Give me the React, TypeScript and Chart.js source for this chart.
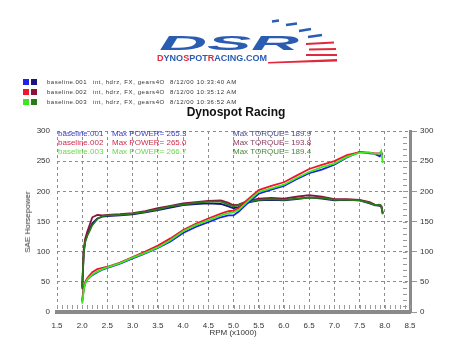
import React, { useEffect, useRef } from "react";
import { Chart, registerables } from "chart.js";
Chart.register(...registerables);

// ---------- data ----------
const rpm = [2.0, 2.03, 2.06, 2.1, 2.15, 2.2, 2.3, 2.4, 2.5, 2.75, 3.0, 3.25, 3.5, 3.75, 4.0, 4.25, 4.5, 4.75, 4.9, 5.0, 5.1, 5.25, 5.5, 5.75, 6.0, 6.25, 6.5, 6.75, 7.0, 7.25, 7.5, 7.7, 7.8, 7.9, 7.93, 7.96];

const torque001 = [40, 100, 118, 128, 138, 147, 155, 158, 159, 160, 162, 165, 169, 173, 177, 179, 180, 179, 175, 172, 174, 181, 185, 186, 185, 187, 189.9, 188, 185, 186, 185, 180, 177, 176, 175, 163];
const torque002 = [42, 104, 122, 133, 145, 157, 161, 160, 161, 162, 164, 167, 172, 176, 180, 182, 184, 185, 181, 177, 178, 183, 188, 189, 188, 191, 193.8, 191, 187, 187, 186, 182, 178, 177, 176, 164];
const torque003 = [38, 98, 116, 126, 135, 144, 154, 159, 160, 161, 163, 166, 170, 175, 178, 181, 183, 183, 178, 175, 177, 182, 186, 187, 186, 188, 189.4, 189, 186, 186, 185, 181, 177, 178, 176, 162];

const power001 = [17, 38, 48, 54, 58, 61, 66, 70, 73, 80, 89, 97, 106, 117, 131, 141, 149, 157, 160, 160, 166, 178, 196, 203, 209, 220, 230, 236, 244, 256, 265.3, 263, 262, 258, 262, 260];
const power002 = [20, 40, 50, 56, 61, 66, 71, 73, 75, 82, 91, 100, 110, 122, 136, 146, 155, 163, 167, 168, 172, 184, 202, 209, 215, 226, 237, 244, 250, 260, 265, 264, 263, 263, 264, 262];
const power003 = [14, 36, 47, 54, 58, 62, 67, 71, 74, 81, 90, 98, 107, 119, 134, 144, 152, 160, 164, 165, 169, 181, 199, 205, 211, 222, 232, 240, 246, 257, 264, 264, 262, 263, 266.7, 247];

const runNames = ["baseline.001", "baseline.002", "baseline.003"];
const runSetup = ["int, hdrz, FX, gears4O", "int, hdrz, FX, gears4O", "int, hdrz, FX, gears4O"];
const runTimes = ["8/12/00 10:33:40 AM", "8/12/00 10:35:12 AM", "8/12/00 10:36:52 AM"];
const maxPower = ["265.3", "265.0", "266.7"];
const maxTorque = ["189.9", "193.8", "189.4"];

const xTicks = { min: 1.5, max: 8.5, step: 0.5 };
const yTicks = { min: 0, max: 300, step: 50 };

// ---------- styles ----------
const powerColors = ["#1e22e6", "#f0142c", "#3ee61e"];
const torqueColors = ["#16167e", "#8a1438", "#2a7a18"];
const annoColors = ["#3c3cc8", "#cc2c4c", "#6ad84a"];
const annoTorqueColors = ["#4a4a88", "#8a3a5c", "#4a883a"];
const FONT = '"Liberation Sans", Arial, sans-serif';

const minorTicks = {
  id: "minorTicks",
  afterDatasetsDraw(chart: any) {
    const { ctx, chartArea, scales } = chart;
    const x = scales.x;
    const y = scales.y;
    ctx.save();
    ctx.strokeStyle = "#9a9a9a";
    ctx.lineWidth = 1;
    ctx.beginPath();
    for (let i = 0; i <= 70; i++) {
      const v = xTicks.min + i * 0.1;
      const px = Math.round(x.getPixelForValue(v)) + 0.5;
      ctx.moveTo(px, chartArea.bottom - 7);
      ctx.lineTo(px, chartArea.bottom - 3);
    }
    for (let i = 1; i < 30; i++) {
      const py = Math.round(y.getPixelForValue(i * 10)) + 0.5;
      ctx.moveTo(chartArea.right - 7, py);
      ctx.lineTo(chartArea.right - 3, py);
    }
    ctx.stroke();
    ctx.restore();
  },
};

function ChartCanvas() {
  const ref = useRef<HTMLCanvasElement | null>(null);
  useEffect(() => {
    if (!ref.current) return;
    const pts = (arr: number[]) => rpm.map((r, i) => ({ x: r, y: arr[i] }));
    const mk = (label: string, data: number[], color: string, order: number) => ({
      label,
      data: pts(data),
      borderColor: color,
      backgroundColor: color,
      borderWidth: 1.8,
      pointRadius: 0,
      tension: 0,
      fill: false,
      order,
    });
    const chart = new Chart(ref.current, {
      type: "line",
      data: {
        datasets: [
          mk("Torque 001", torque001, torqueColors[0], 6),
          mk("Torque 002", torque002, torqueColors[1], 5),
          mk("Torque 003", torque003, torqueColors[2], 4),
          mk("Power 001", power001, powerColors[0], 3),
          mk("Power 002", power002, powerColors[1], 2),
          mk("Power 003", power003, powerColors[2], 1),
        ],
      },
      options: {
        animation: false,
        responsive: false,
        layout: { padding: { top: 131, left: 0, right: 0, bottom: 0 } },
        plugins: { legend: { display: false }, tooltip: { enabled: false }, title: { display: false } },
        scales: {
          x: {
            type: "linear",
            min: xTicks.min,
            max: xTicks.max,
            ticks: {
              stepSize: xTicks.step,
              callback: (v: any) => Number(v).toFixed(1),
              font: { family: FONT, size: 8 },
              color: "#333",
              padding: 9,
              maxRotation: 0,
            },
            grid: { color: "#8c8c8c", lineWidth: 1, drawTicks: false },
            border: { display: true, color: "#8a8a8a", width: 4, dash: [3, 3] },
            afterFit: (s: any) => { s.height = 52; },
          },
          y: {
            position: "left",
            min: yTicks.min,
            max: yTicks.max,
            ticks: { stepSize: yTicks.step, font: { family: FONT, size: 8 }, color: "#333", padding: 7 },
            grid: { color: "#8c8c8c", lineWidth: 1, drawTicks: false },
            border: { display: false, dash: [3, 3] },
            afterFit: (s: any) => { s.width = 57; },
          },
          y2: {
            position: "right",
            min: yTicks.min,
            max: yTicks.max,
            ticks: { stepSize: yTicks.step, font: { family: FONT, size: 8 }, color: "#333", padding: 3 },
            grid: { drawOnChartArea: false, drawTicks: true, tickLength: 7, color: "#999" },
            border: { display: true, color: "#8a8a8a", width: 3 },
            afterFit: (s: any) => { s.width = 46; },
          },
        },
      } as any,
      plugins: [minorTicks],
    });
    return () => chart.destroy();
  }, []);
  return <canvas ref={ref} width={456} height={364} style={{ position: "absolute", left: 0, top: 0, width: 456, height: 364 }} />;
}

function Logo() {
  const blue = "#2a5db2";
  const red = "#e1283c";
  return (
    <svg width={456} height={70} style={{ position: "absolute", left: 0, top: 0 }}>
      <g stroke={blue} strokeWidth={2.4} strokeLinecap="butt">
        <line x1={272} y1={21.5} x2={279} y2={20.5} />
        <line x1={286} y1={25} x2={297} y2={23.5} />
        <line x1={299} y1={31} x2={311} y2={29} />
        <line x1={308} y1={37} x2={322} y2={35} />
      </g>
      <g stroke={red} strokeWidth={2}>
        <line x1={306} y1={44} x2={334} y2={42.5} />
        <line x1={309} y1={49.5} x2={336} y2={49} />
        <line x1={306} y1={55} x2={337} y2={55} />
      </g>
      <polygon points="268,62 337,59 337,61.5 268,63.5" fill={red} />
      <text x={159} y={50} fontFamily={FONT} fontSize={21} fontWeight={900} fontStyle="italic" fill={blue} textLength={140} lengthAdjust="spacingAndGlyphs">DSR</text>
      <text x={157} y={61} fontFamily={FONT} fontSize={9.5} fontWeight={700} textLength={110} lengthAdjust="spacingAndGlyphs">
        <tspan fill={red}>D</tspan>
        <tspan fill={blue}>YNO</tspan>
        <tspan fill={red}>S</tspan>
        <tspan fill={blue}>POT</tspan>
        <tspan fill={red}>R</tspan>
        <tspan fill={blue}>ACING.COM</tspan>
      </text>
    </svg>
  );
}

export default function App() {
  const legendY = [82, 92, 102];
  const annoY = [134.5, 143.5, 152.5];
  const abs = (o: any): React.CSSProperties => ({ position: "absolute", whiteSpace: "nowrap", lineHeight: 1, ...o });
  return (
    <div style={{ position: "absolute", left: 0, top: 0, width: 456, height: 364, background: "#fff", fontFamily: FONT, overflow: "hidden" }}>
      <ChartCanvas />
      <Logo />
      {runNames.map((n, i) => (
        <React.Fragment key={"lg" + i}>
          <div style={abs({ left: 23, top: legendY[i] - 3, width: 6, height: 6, background: powerColors[i] })} />
          <div style={abs({ left: 31, top: legendY[i] - 3, width: 6, height: 6, background: torqueColors[i] })} />
          <div style={abs({ left: 47, top: legendY[i] - 3.5, fontSize: 6, letterSpacing: 0.5, color: "#333" })}>{n}</div>
          <div style={abs({ left: 93, top: legendY[i] - 3.5, fontSize: 6, letterSpacing: 0.6, color: "#333" })}>{runSetup[i]}</div>
          <div style={abs({ left: 170, top: legendY[i] - 3.5, fontSize: 6, letterSpacing: 0.6, color: "#333" })}>{runTimes[i]}</div>
        </React.Fragment>
      ))}
      <div style={abs({ left: 0, width: 472, top: 106, textAlign: "center", fontSize: 12, fontWeight: 700, color: "#111" })}>Dynospot Racing</div>
      {runNames.map((n, i) => (
        <React.Fragment key={"an" + i}>
          <div style={abs({ left: 58, top: annoY[i] - 4.5, fontSize: 8, color: annoColors[i] })}>{n}</div>
          <div style={abs({ left: 112, top: annoY[i] - 4.5, fontSize: 8, color: annoColors[i] })}>{"Max POWER= " + maxPower[i]}</div>
          <div style={abs({ left: 233, top: annoY[i] - 4.5, fontSize: 8, color: annoTorqueColors[i] })}>{"Max TORQUE= " + maxTorque[i]}</div>
        </React.Fragment>
      ))}
      <div style={abs({ left: 28, top: 222, fontSize: 8, color: "#333", transform: "translate(-50%,-50%) rotate(-90deg)" })}>SAE Horsepower</div>
      <div style={abs({ left: 233, top: 333, fontSize: 8, color: "#333", transform: "translate(-50%,-50%)" })}>RPM (x1000)</div>
    </div>
  );
}
